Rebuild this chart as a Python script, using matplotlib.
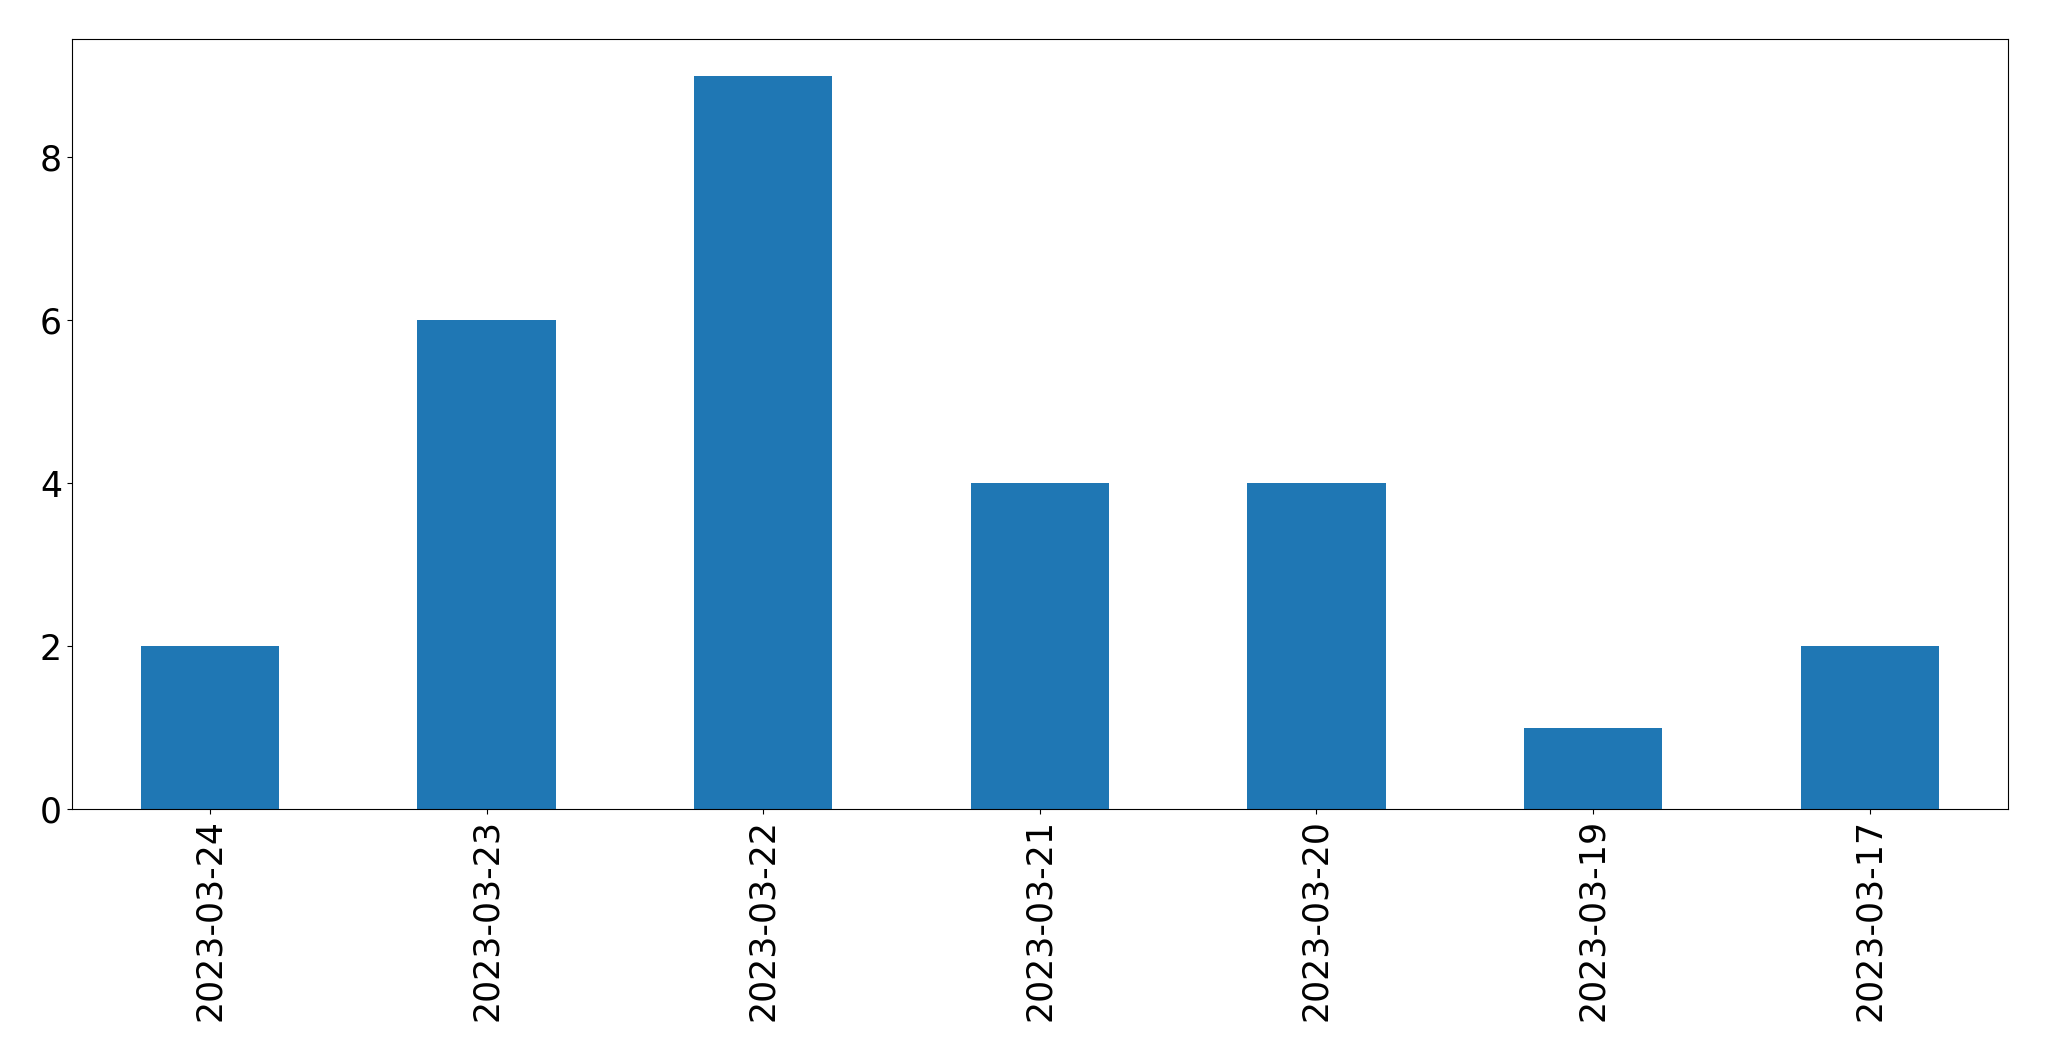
import matplotlib
matplotlib.use("Agg")
import matplotlib.pyplot as plt

dates = ["2023-03-24", "2023-03-23", "2023-03-22", "2023-03-21", "2023-03-20", "2023-03-19", "2023-03-17"]
counts = [2, 6, 9, 4, 4, 1, 2]

fig = plt.figure(figsize=(20.49, 10.61), dpi=100)
ax = fig.add_axes([0.035, 0.2375, 0.945, 0.7255])
x = list(range(len(dates)))
ax.bar(x, counts, width=0.5, color="#1f77b4")
ax.set_xlim(-0.5, len(dates) - 0.5)
ax.set_ylim(0, max(counts) * 1.05)
ax.set_xticks(x)
ax.set_xticklabels(dates, rotation=90)
ax.set_yticks([0, 2, 4, 6, 8])
ax.tick_params(labelsize=25)
fig.savefig("out.png", dpi=100)
